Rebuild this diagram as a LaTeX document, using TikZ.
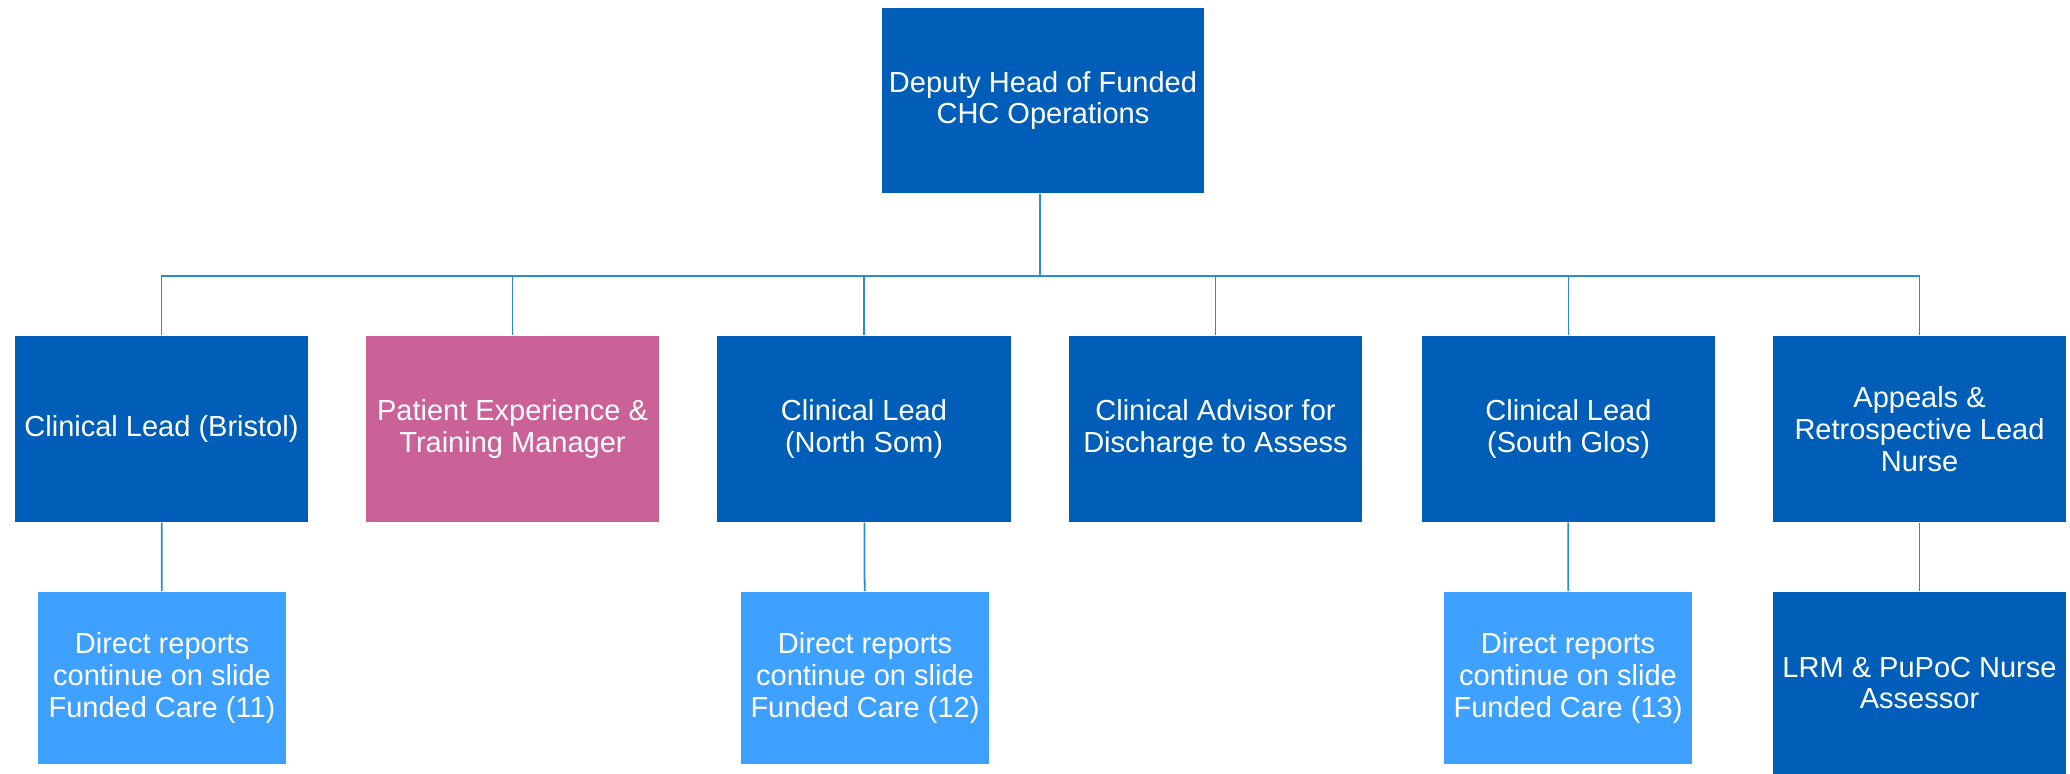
\documentclass[tikz,border=0pt]{standalone}
\usepackage{fontspec}
\setmainfont{Liberation Sans}
\usepackage{tikz}

\definecolor{darkblue}{RGB}{0,94,184}
\definecolor{pinkbox}{RGB}{202,98,152}
\definecolor{lightblue}{RGB}{62,160,255}
\definecolor{linkblue}{RGB}{45,138,214}

\begin{document}
\begin{tikzpicture}[x=0.01cm, y=-0.01cm,
  box/.style={fill=darkblue, text=white, align=center, inner sep=0pt,
    font=\fontsize{8.25}{9.05}\selectfont},
  headbox/.style={box, minimum width=3.22cm, minimum height=1.85cm},
  leadbox/.style={box, minimum width=2.93cm, minimum height=1.86cm},
  reportbox/.style={box, fill=lightblue, minimum width=2.48cm, minimum height=1.72cm},
  link/.style={draw=linkblue, line width=0.5pt}]

% Page size
\useasboundingbox (0,0) rectangle (2070,774);

% Head box
\node[headbox] (head) at (1043,100.5) {Deputy Head of Funded\\CHC Operations};

% Second row
\node[leadbox] (lead1) at (161.5,429) {Clinical Lead (Bristol)};
\node[leadbox, fill=pinkbox] (lead2) at (512.5,429) {Patient Experience \&\\Training Manager};
\node[leadbox] (lead3) at (864,429) {Clinical Lead\\(North Som)};
\node[leadbox] (lead4) at (1215.5,429) {Clinical Advisor for\\Discharge to Assess};
\node[leadbox] (lead5) at (1568.5,429) {Clinical Lead\\(South Glos)};
\node[leadbox] (lead6) at (1919.5,429) {Appeals \&\\Retrospective Lead\\Nurse};

% Third row
\node[reportbox] (rep1) at (162,678) {Direct reports\\continue on slide\\Funded Care (11)};
\node[reportbox] (rep3) at (865,678) {Direct reports\\continue on slide\\Funded Care (12)};
\node[reportbox] (rep5) at (1568,678) {Direct reports\\continue on slide\\Funded Care (13)};
\node[leadbox, minimum height=1.82cm] (rep6) at (1919.5,683) {LRM \& PuPoC Nurse\\Assessor};

% Connectors
\coordinate (bus) at (1040,276);
\draw[link] (head.south -| bus) -- (bus);
\draw[link] (bus) -| (lead1.north);
\draw[link] (bus) -| (lead2.north);
\draw[link] (bus) -| (lead3.north);
\draw[link] (bus) -| (lead4.north);
\draw[link] (bus) -| (lead5.north);
\draw[link] (bus) -| (lead6.north);

\draw[link] (lead1) -- (rep1);
\draw[link] (lead3) -- (rep3);
\draw[link] (lead5) -- (rep5);
\draw[link] (lead6) -- (rep6);
\end{tikzpicture}
\end{document}
